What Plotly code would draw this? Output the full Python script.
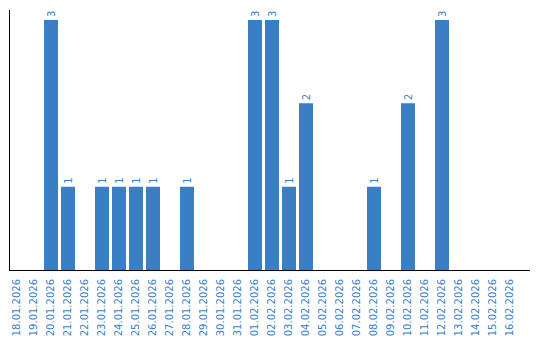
import plotly.graph_objects as go

dates = ["18.01.2026", "19.01.2026", "20.01.2026", "21.01.2026", "22.01.2026", "23.01.2026",
         "24.01.2026", "25.01.2026", "26.01.2026", "27.01.2026", "28.01.2026", "29.01.2026",
         "30.01.2026", "31.01.2026", "01.02.2026", "02.02.2026", "03.02.2026", "04.02.2026",
         "05.02.2026", "06.02.2026", "07.02.2026", "08.02.2026", "09.02.2026", "10.02.2026",
         "11.02.2026", "12.02.2026", "13.02.2026", "14.02.2026", "15.02.2026", "16.02.2026"]
counts = [0, 0, 3, 1, 0, 1, 1, 1, 1, 0, 1, 0, 0, 0, 3, 3, 1, 2, 0, 0, 0, 1, 0, 2, 0, 3, 0, 0, 0, 0]

color = "#3a7ec3"
labels = [str(v) if v > 0 else "" for v in counts]

fig = go.Figure(go.Bar(
    x=list(range(len(dates))), y=counts, marker_color=color, marker_line_width=0,
    width=14/17,
    text=labels, textposition="outside", textangle=-90, cliponaxis=False,
    textfont=dict(family="DejaVu Sans", size=10, color=color),
))
fig.update_layout(
    width=540, height=340, margin=dict(l=10, r=10, t=10, b=70, autoexpand=False),
    paper_bgcolor="white", plot_bgcolor="white", showlegend=False,
    font=dict(family="DejaVu Sans", size=10, color=color),
)
fig.update_xaxes(
    tickmode="array", tickvals=list(range(len(dates))), ticktext=dates, tickangle=-90,
    range=[-7/17, -7/17 + 520/17], showgrid=False, showline=True, linecolor="black",
    linewidth=1, ticks="", ticklabelstandoff=4, automargin=False,
    tickfont=dict(family="DejaVu Sans", size=10, color=color),
)
fig.update_yaxes(
    range=[0, 3.12], showgrid=False, showline=True, linecolor="black", linewidth=1,
    showticklabels=False, ticks="", zeroline=False, automargin=False,
)
fig.write_html("out.html")
